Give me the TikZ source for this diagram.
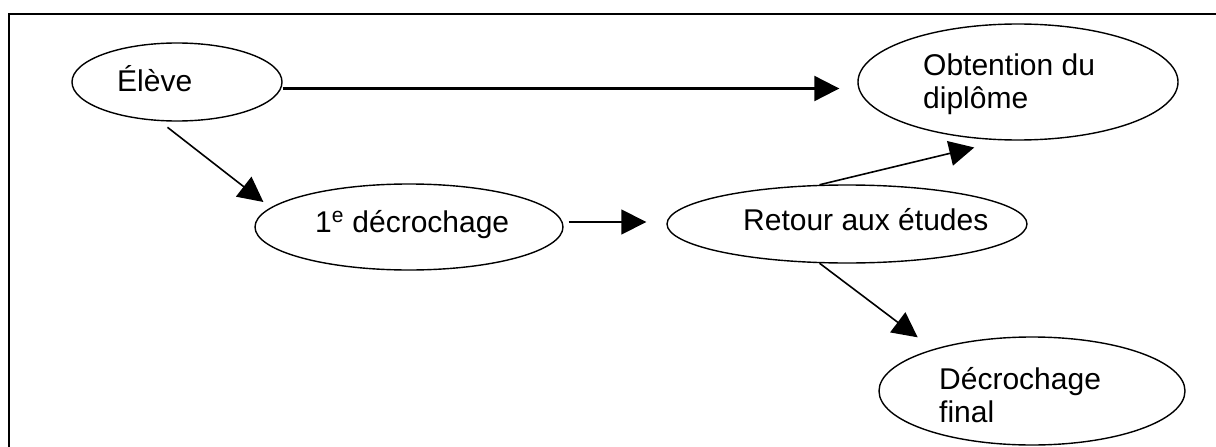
\documentclass[tikz,border=0pt]{standalone}
\usepackage{fontspec}
\setmainfont{Liberation Sans}
\usetikzlibrary{arrows.meta,shapes.geometric}

\tikzstyle{bubble} = [ellipse, draw, line width=1.4pt, inner sep=0pt]
\tikzstyle{lbl}    = [anchor=base west, inner sep=0pt, align=left,
                      font=\fontsize{30}{33}\selectfont]
\tikzstyle{ptr}    = [draw, line width=1.6pt, -{Triangle[length=25pt,width=25pt]}]

\begin{document}
\begin{tikzpicture}[x=1pt, y=-1pt]
    \useasboundingbox (0,0) rectangle (1216,447);
    \draw[line width=2.2pt] (9,447) -- (9,14) -- (1216,14);

    \node[bubble, minimum width=210pt, minimum height=78pt]  (eleve)  at (177,82)  {};
    \node[bubble, minimum width=320pt, minimum height=116pt] (obt)    at (1018,82) {};
    \node[bubble, minimum width=308pt, minimum height=86pt]  (dec1)   at (409,227) {};
    \node[bubble, minimum width=360pt, minimum height=78pt]  (retour) at (847,224) {};
    \node[bubble, minimum width=306pt, minimum height=108pt] (decfin) at (1032,391) {};

    \node[lbl] (eleve-txt)  at (117,91)  {Élève};
    \node[lbl] (obt-txt)    at (923,108) {Obtention du\\diplôme};
    \node[lbl] (dec1-txt)   at (315,232) {1\textsuperscript{e} décrochage};
    \node[lbl] (retour-txt) at (743,230) {Retour aux études};
    \node[lbl] (decfin-txt) at (939,422) {Décrochage\\final};

    \draw[ptr, line width=2.2pt, shorten >=18pt] ([yshift=-6.5pt]eleve.east) -- ([yshift=-6.5pt]obt.west);
    \draw[ptr, shorten <=10pt, shorten >=9pt] (eleve.-114) -- (dec1.172);
    \draw[ptr, shorten <=5pt, shorten >=20pt] ([yshift=5pt]dec1.east) -- ([yshift=5pt]dec1.east -| retour.west);
    \draw[ptr, shorten >=30pt] (retour.125) -- (obt.-104.5);
    \draw[ptr, shorten >=19.5pt] (retour.-125) -- (decfin.157.8);
\end{tikzpicture}
\end{document}
